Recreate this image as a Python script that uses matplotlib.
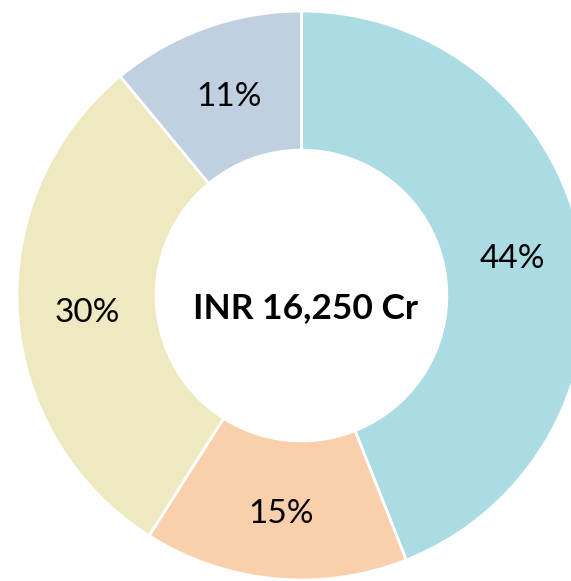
import matplotlib
matplotlib.use("Agg")
import matplotlib.pyplot as plt

# donut shares, clockwise from 12 o'clock
shares = [44, 15, 30, 11]
colors = ["#ABDBE3", "#FAD0AC", "#EFE9C1", "#C1D0E1"]
total_label = "INR 16,250 Cr"

plt.rcParams["font.family"] = ["Lato", "DejaVu Sans"]

fig = plt.figure(figsize=(5.71, 5.81), dpi=100)
ax = fig.add_axes([0, 0, 1, 1])

wedges, texts = ax.pie(
    shares, colors=colors, startangle=90, counterclock=False,
    radius=1.0, labels=[f"{s}%" for s in shares], labeldistance=0.756,
    wedgeprops=dict(width=0.489, edgecolor="white", linewidth=2),
    textprops=dict(fontsize=24, color="black", ha="center", va="center"),
)
for t in texts:
    x, y = t.get_position()
    t.set_position((x, y - 0.015))

ax.text(0.015, -0.045, total_label, ha="center", va="center",
        fontsize=25.5, fontweight="bold", color="black")

# circle centre sits at ~(301, 295) px, right edge cropped
ax.set_xlim(-1.0598, 0.9473)
ax.set_ylim(-1.0035, 1.0387)
ax.set_aspect("equal")
ax.axis("off")

fig.savefig("out.png", dpi=100, facecolor="white")
